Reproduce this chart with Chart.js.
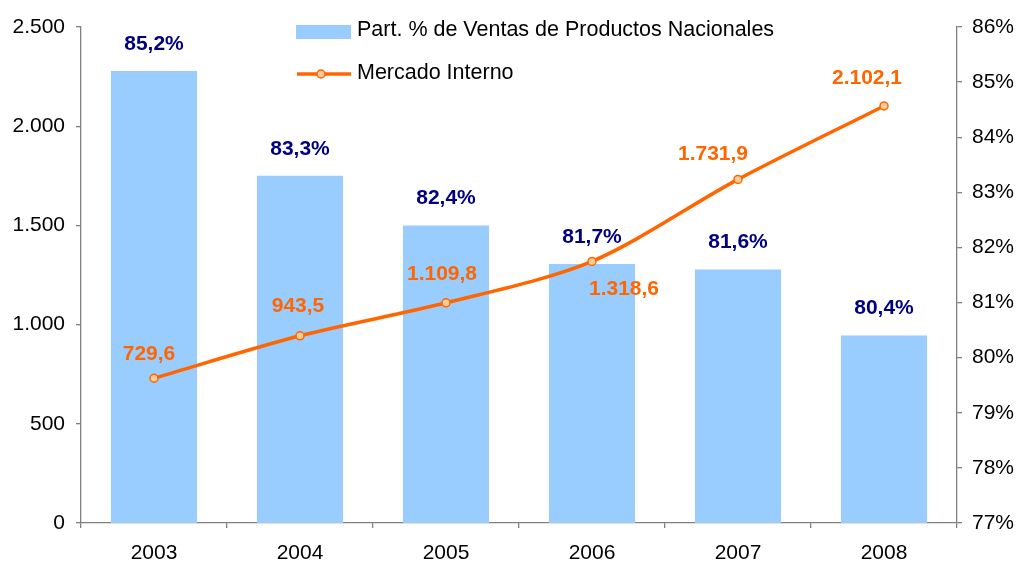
<!DOCTYPE html>
<html lang="es">
<head>
  <meta charset="UTF-8">
  <title>Mercado Interno</title>
  <script src="https://cdn.jsdelivr.net/npm/chart.js@4.4.1/dist/chart.umd.min.js"></script>
  <style>
    body { margin: 0; background: #fff; }
    #wrap { width: 1016px; height: 562px; }
  </style>
</head>
<body>
  <div id="wrap"><canvas id="myChart" width="1016" height="562"></canvas></div>
  <script>
    const years = ['2003', '2004', '2005', '2006', '2007', '2008'];
    const partNacionales = [85.2, 83.3, 82.4, 81.7, 81.6, 80.4];
    const mercadoInterno = [729.6, 943.5, 1109.8, 1318.6, 1731.9, 2102.1];
    const leftTicks = [0, 500, 1000, 1500, 2000, 2500];
    const rightTicks = [77, 78, 79, 80, 81, 82, 83, 84, 85, 86];

    // label nudges for the line values (dx, dy from the point)
    const lineLabelOffsets = [[-5, -24], [-2, -30], [-4, -29], [32, 28], [-25, -25], [-17, -28]];

    const FONT = '"Liberation Sans", Arial, sans-serif';
    const orange = '#FF6600';
    const navy = '#000080';
    const blue = '#99CCFF';
    const axisGray = '#808080';

    function miles(v, dec) {
      let s = v.toFixed(dec);
      let parts = s.split('.');
      parts[0] = parts[0].replace(/\B(?=(\d{3})+(?!\d))/g, '.');
      return parts.length > 1 ? parts[0] + ',' + parts[1] : parts[0];
    }

    const valueLabels = {
      id: 'valueLabels',
      afterDatasetsDraw(chart) {
        const ctx = chart.ctx;
        ctx.save();
        ctx.textAlign = 'center';
        ctx.textBaseline = 'middle';
        ctx.font = 'bold 21px ' + FONT;
        chart.getDatasetMeta(0).data.forEach((el, i) => {
          ctx.fillStyle = navy;
          ctx.fillText(partNacionales[i].toFixed(1).replace('.', ',') + '%', el.x, el.y - 27);
        });
        chart.getDatasetMeta(1).data.forEach((el, i) => {
          ctx.fillStyle = orange;
          ctx.fillText(miles(mercadoInterno[i], 1), el.x + lineLabelOffsets[i][0], el.y + lineLabelOffsets[i][1]);
        });
        ctx.restore();
      }
    };

    const customLegend = {
      id: 'customLegend',
      afterDraw(chart) {
        const ctx = chart.ctx;
        const ds = chart.data.datasets;
        ctx.save();
        ctx.font = '21.5px ' + FONT;
        ctx.textBaseline = 'middle';
        // bar entry
        ctx.fillStyle = ds[0].backgroundColor;
        ctx.fillRect(296, 25, 55, 14);
        ctx.fillStyle = '#000';
        ctx.fillText(ds[0].label, 357, 30);
        // line entry
        ctx.strokeStyle = ds[1].borderColor;
        ctx.lineWidth = 3.5;
        ctx.beginPath();
        ctx.moveTo(297, 74);
        ctx.lineTo(351, 74);
        ctx.stroke();
        ctx.beginPath();
        ctx.arc(321, 74, 4, 0, Math.PI * 2);
        ctx.fillStyle = ds[1].pointBackgroundColor;
        ctx.fill();
        ctx.lineWidth = 1.5;
        ctx.stroke();
        ctx.fillStyle = '#000';
        ctx.fillText(ds[1].label, 357, 73);
        ctx.restore();
      }
    };

    new Chart(document.getElementById('myChart'), {
      data: {
        labels: years,
        datasets: [{
          type: 'bar',
          label: 'Part. % de Ventas de Productos Nacionales',
          data: partNacionales,
          yAxisID: 'y1',
          backgroundColor: blue,
          borderWidth: 0,
          barPercentage: 0.59,
          categoryPercentage: 1,
          order: 2
        }, {
          type: 'line',
          label: 'Mercado Interno',
          data: mercadoInterno,
          yAxisID: 'y',
          borderColor: orange,
          borderWidth: 3.5,
          tension: 0.3,
          pointRadius: 4,
          pointBorderWidth: 1.5,
          pointBackgroundColor: '#FFCC99',
          pointBorderColor: orange,
          order: 1
        }]
      },
      options: {
        responsive: false,
        animation: false,
        layout: { padding: { top: 27 } },
        plugins: {
          legend: { display: false },
          tooltip: { enabled: false }
        },
        scales: {
          x: {
            grid: { drawOnChartArea: false, tickLength: 5, color: axisGray, lineWidth: 1.3, offset: true },
            border: { color: axisGray, width: 1.3 },
            ticks: { color: '#000', font: { family: FONT, size: 21 }, padding: 13 },
            afterFit(s) { s.height = 39; }
          },
          y: {
            position: 'left',
            min: 0,
            max: 2500,
            afterBuildTicks(s) { s.ticks = leftTicks.map(v => ({ value: v })); },
            grid: { drawOnChartArea: false, tickLength: 5, color: axisGray, lineWidth: 1.3 },
            border: { color: axisGray, width: 1.3 },
            ticks: { color: '#000', font: { family: FONT, size: 21 }, padding: 11, callback: v => miles(v, 0) },
            afterFit(s) { s.width = 81; }
          },
          y1: {
            position: 'right',
            min: 77,
            max: 86,
            afterBuildTicks(s) { s.ticks = rightTicks.map(v => ({ value: v })); },
            grid: { drawOnChartArea: false, tickLength: 5, color: axisGray, lineWidth: 1.3 },
            border: { color: axisGray, width: 1.3 },
            ticks: { color: '#000', font: { family: FONT, size: 21 }, padding: 10, callback: v => v + '%' },
            afterFit(s) { s.width = 59; }
          }
        }
      },
      plugins: [valueLabels, customLegend]
    });
  </script>
</body>
</html>
